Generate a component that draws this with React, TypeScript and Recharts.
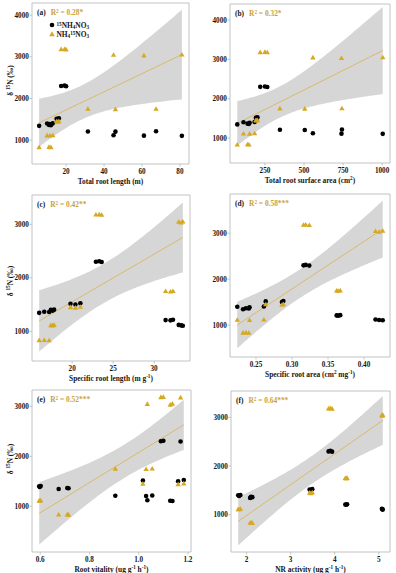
import React from "react";
import {
  ComposedChart,
  Scatter,
  Line,
  Area,
  XAxis,
  YAxis,
  ReferenceArea,
  Legend,
} from "recharts";

// δ15N (‰) per plant: 6 treatments x 3 replicates, same plant order in every array
const nh4Delta = [1400, 1385, 1405, 1345, 1365, 1360, 1515, 1500, 1525, 2300, 2310, 2295, 1210, 1205, 1215, 1120, 1110, 1105];
const no3Delta = [1112, 1108, 1118, 832, 836, 830, 1450, 1440, 1455, 3180, 3185, 3175, 1750, 1742, 1752, 3045, 3030, 3050];

// root traits of the same plants
const rootLength = [10, 11.5, 13, 5.8, 11, 12, 15, 15.6, 16.2, 17.4, 19.2, 20, 31.5, 46, 67.4, 45, 61, 81];
const rootSurfaceArea = [113, 152, 184, 73, 139, 148, 192, 198, 202, 220, 250, 265, 346, 505, 743, 557, 740, 1004];
const specificRootLength = [17.4, 17.6, 17.8, 15.98, 16.6, 17.2, 19.8, 20.4, 21.0, 22.9, 23.3, 23.6, 31.4, 32.0, 32.3, 33.0, 33.3, 33.5];
const specificRootArea = [0.224, 0.241, 0.261, 0.232, 0.236, 0.24, 0.2635, 0.286, 0.288, 0.316, 0.319, 0.324, 0.362, 0.364, 0.367, 0.416, 0.421, 0.426];
const rootVitality = [0.596, 0.598, 0.602, 0.675, 0.71, 0.715, 1.017, 1.16, 1.183, 1.09, 1.1, 1.17, 0.905, 1.03, 1.055, 1.035, 1.128, 1.137];
const nrActivity = [1.81, 1.83, 1.86, 2.08, 2.1, 2.13, 3.43, 3.46, 3.49, 3.86, 3.9, 3.94, 4.24, 4.26, 4.28, 5.07, 5.08, 5.09];

const panelTags = ["(a)", "(b)", "(c)", "(d)", "(e)", "(f)"];
const rSquared = ["0.28*", "0.32*", "0.42**", "0.58***", "0.52***", "0.64***"];
const yTicksTall = [1000, 2000, 3000, 4000];
const yTicksShort = [1000, 2000, 3000];

const FONT = '"Liberation Serif", "Times New Roman", serif';
const GOLD = "#D6A922";
const GOLD_LINE = "#DBB868";
const GOLD_TEXT = "#C9A13A";
const BAND = "#D6D6D6";
const FRAME = "#C2C2C2";
const INK = "#161616";

const NH4_NAME = "15NH4NO3";
const NO3_NAME = "NH415NO3";

type Part = [string, "" | "sup" | "sub"];

const Y_TITLE: Part[] = [["δ ", ""], ["15", "sup"], ["N (‰)", ""]];

interface PanelSpec {
  x: number[];
  tag: string;
  r2: string;
  xTitle: Part[];
  xTicks: number[];
  yTicks: number[];
  yDomain: [number, number];
  digits: number;
  // plot frame placement on the page
  fl: number;
  ft: number;
  fw: number;
  fh: number;
  yTitle?: boolean;
  yShift?: number;
  legend?: boolean;
}

const panels: PanelSpec[] = [
  {
    x: rootLength, tag: panelTags[0], r2: rSquared[0],
    xTitle: [["Total root length (m)", ""]],
    xTicks: [20, 40, 60, 80], yTicks: yTicksTall, yDomain: [430, 4290], digits: 0,
    fl: 32, ft: 3, fw: 157, fh: 161, yTitle: true, yShift: -3, legend: true,
  },
  {
    x: rootSurfaceArea, tag: panelTags[1], r2: rSquared[1],
    xTitle: [["Total root surface area (cm", ""], ["2", "sup"], [")", ""]],
    xTicks: [250, 500, 750, 1000], yTicks: yTicksTall, yDomain: [364, 4407], digits: 0,
    fl: 230, ft: 4, fw: 160, fh: 159,
  },
  {
    x: specificRootLength, tag: panelTags[2], r2: rSquared[2],
    xTitle: [["Specific root length (m g", ""], ["-1", "sup"], [")", ""]],
    xTicks: [20, 25, 30], yTicks: yTicksShort, yDomain: [445, 3548], digits: 0,
    fl: 32, ft: 195, fw: 158, fh: 166, yTitle: true, yShift: 3,
  },
  {
    x: specificRootArea, tag: panelTags[3], r2: rSquared[3],
    xTitle: [["Specific root area (cm", ""], ["2", "sup"], [" mg", ""], ["-1", "sup"], [")", ""]],
    xTicks: [0.25, 0.3, 0.35, 0.4], yTicks: yTicksShort, yDomain: [304, 3854], digits: 2,
    fl: 230, ft: 194, fw: 160, fh: 163,
  },
  {
    x: rootVitality, tag: panelTags[4], r2: rSquared[4],
    xTitle: [["Root vitality (ug g", ""], ["-1", "sup"], [" h", ""], ["-1", "sup"], [")", ""]],
    xTicks: [0.6, 0.8, 1.0, 1.2], yTicks: yTicksShort, yDomain: [86, 3326], digits: 1,
    fl: 32, ft: 390, fw: 159, fh: 162, yTitle: true, yShift: -12,
  },
  {
    x: nrActivity, tag: panelTags[5], r2: rSquared[5],
    xTitle: [["NR activity (ug g", ""], ["-1", "sup"], [" h", ""], ["-1", "sup"], [")", ""]],
    xTicks: [2, 3, 4, 5], yTicks: yTicksShort, yDomain: [234, 3540], digits: 0,
    fl: 231, ft: 391, fw: 159, fh: 161,
  },
];

const T95 = 2.12; // t(0.975, df = 16) for 18 plants

// ordinary least squares line with its 95% confidence band, like geom_smooth(method = "lm")
function lmBand(xs: number[], ys: number[], steps = 60) {
  const n = xs.length;
  const mx = xs.reduce((s, v) => s + v, 0) / n;
  const my = ys.reduce((s, v) => s + v, 0) / n;
  let sxx = 0;
  let sxy = 0;
  xs.forEach((x, i) => {
    sxx += (x - mx) ** 2;
    sxy += (x - mx) * (ys[i] - my);
  });
  const b = sxy / sxx;
  const a = my - b * mx;
  const sse = xs.reduce((s, x, i) => s + (ys[i] - a - b * x) ** 2, 0);
  const se = Math.sqrt(sse / (n - 2));
  const lo = Math.min(...xs);
  const hi = Math.max(...xs);
  return Array.from({ length: steps + 1 }, (_, k) => {
    const x = lo + ((hi - lo) * k) / steps;
    const fit = a + b * x;
    const w = T95 * se * Math.sqrt(1 / n + (x - mx) ** 2 / sxx);
    return { x, fit, band: [fit - w, fit + w] };
  });
}

// ggplot-style 5% expansion of the data range
function expanded(xs: number[]): [number, number] {
  const lo = Math.min(...xs);
  const hi = Math.max(...xs);
  const pad = (hi - lo) * 0.05;
  return [lo - pad, hi + pad];
}

function richTspans(parts: Part[], fs: number) {
  let shift = 0;
  return parts.map(([t, kind], i) => {
    const target = kind === "sup" ? -0.38 * fs : kind === "sub" ? 0.18 * fs : 0;
    const dy = target - shift;
    shift = target;
    return (
      <tspan key={i} dy={dy !== 0 ? dy : undefined} fontSize={kind ? fs * 0.7 : fs}>
        {t}
      </tspan>
    );
  });
}

const supStyle: React.CSSProperties = { fontSize: "0.7em", verticalAlign: "0.45em", lineHeight: 0 };
const subStyle: React.CSSProperties = { fontSize: "0.7em", verticalAlign: "-0.12em", lineHeight: 0 };

function XTitle(props: any) {
  const vb = props.viewBox ?? { x: 0, y: 0, width: 0, height: 0 };
  return (
    <text
      x={vb.x + vb.width / 2}
      y={vb.y + 20}
      textAnchor="middle"
      fontFamily={FONT}
      fontSize={7.4}
      fontWeight={700}
      fill={INK}
    >
      {richTspans(props.parts, 7.4)}
    </text>
  );
}

function YTitle(props: any) {
  const vb = props.viewBox ?? { x: 0, y: 0, width: 0, height: 0 };
  const fs = 7.4;
  const cx = vb.x + 10;
  const cy = vb.y + vb.height / 2 + (props.shift ?? 0);
  return (
    <text
      x={cx}
      y={cy + 0.35 * fs}
      transform={`rotate(-90 ${cx} ${cy})`}
      textAnchor="middle"
      fontFamily={FONT}
      fontSize={fs}
      fontWeight={700}
      fill={INK}
    >
      {richTspans(Y_TITLE, fs)}
    </text>
  );
}

const renderDot = (p: any) => <circle cx={p.cx} cy={p.cy} r={2.3} fill="#000" />;
const renderTriangle = (p: any) => (
  <polygon
    points={`${p.cx},${p.cy - 2.7} ${p.cx + 2.7},${p.cy + 1.9} ${p.cx - 2.7},${p.cy + 1.9}`}
    fill={GOLD}
  />
);

const legendText: Record<string, React.ReactNode> = {
  [NH4_NAME]: (
    <>
      <span style={supStyle}>15</span>NH<span style={subStyle}>4</span>NO<span style={subStyle}>3</span>
    </>
  ),
  [NO3_NAME]: (
    <>
      NH<span style={subStyle}>4</span>
      <span style={supStyle}>15</span>NO<span style={subStyle}>3</span>
    </>
  ),
};

function LegendBox(props: any) {
  const items = (props.payload ?? []).filter((e: any) => e.type !== "none" && legendText[e.value]);
  return (
    <div style={{ fontFamily: FONT, fontSize: 7.4, fontWeight: 700, color: INK }}>
      {items.map((e: any) => (
        <div key={e.value} style={{ display: "flex", alignItems: "center", height: 9, whiteSpace: "nowrap" }}>
          <svg width={6} height={6} style={{ marginRight: 1.5, flex: "none" }}>
            {e.value === NH4_NAME ? (
              <circle cx={3} cy={3} r={2.3} fill="#000" />
            ) : (
              <polygon points="3,0.3 5.8,5.3 0.2,5.3" fill={GOLD} />
            )}
          </svg>
          <span style={{ lineHeight: "9px" }}>{legendText[e.value]}</span>
        </div>
      ))}
    </div>
  );
}

const YW = 32;
const MT = 3;
const MR = 3;
const XH = 22;

const tickStyle = { fontSize: 7.2, fontWeight: 700, fill: INK, fontFamily: FONT };

function Panel({ p }: { p: PanelSpec }) {
  const xDomain = expanded(p.x);
  const fitData = lmBand(p.x, no3Delta);
  const nh4Points = p.x.map((x, i) => ({ x, y: nh4Delta[i] }));
  const no3Points = p.x.map((x, i) => ({ x, y: no3Delta[i] }));
  const w = YW + p.fw + MR;
  const h = MT + p.fh + XH;

  return (
    <div style={{ position: "absolute", left: p.fl - YW, top: p.ft - MT, width: w, height: h }}>
      <ComposedChart width={w} height={h} data={fitData} margin={{ top: MT, right: MR, bottom: 0, left: 0 }}>
        <XAxis
          type="number"
          dataKey="x"
          domain={xDomain}
          ticks={p.xTicks}
          interval={0}
          allowDataOverflow
          height={XH}
          axisLine={false}
          tickLine={{ stroke: FRAME }}
          tickSize={2.5}
          tickMargin={2.8}
          tick={tickStyle}
          tickFormatter={(v: number) => v.toFixed(p.digits)}
          label={<XTitle parts={p.xTitle} />}
        />
        <YAxis
          type="number"
          domain={p.yDomain}
          ticks={p.yTicks}
          interval={0}
          allowDataOverflow
          width={YW}
          axisLine={false}
          tickLine={{ stroke: FRAME }}
          tickSize={2.5}
          tickMargin={0.6}
          tick={tickStyle}
          label={p.yTitle ? <YTitle shift={p.yShift} /> : undefined}
        />
        <Area
          type="linear"
          dataKey="band"
          stroke="none"
          fill={BAND}
          fillOpacity={1}
          dot={false}
          activeDot={false}
          legendType="none"
          isAnimationActive={false}
        />
        <Line
          type="linear"
          dataKey="fit"
          stroke={GOLD_LINE}
          strokeWidth={1}
          dot={false}
          activeDot={false}
          legendType="none"
          isAnimationActive={false}
        />
        <Scatter name={NH4_NAME} data={nh4Points} dataKey="y" fill="#000" shape={renderDot} isAnimationActive={false} />
        <Scatter name={NO3_NAME} data={no3Points} dataKey="y" fill={GOLD} shape={renderTriangle} isAnimationActive={false} />
        <ReferenceArea
          x1={xDomain[0]}
          x2={xDomain[1]}
          y1={p.yDomain[0]}
          y2={p.yDomain[1]}
          fill="none"
          fillOpacity={0}
          stroke={FRAME}
          strokeWidth={1}
        />
        {p.legend && (
          <Legend
            layout="vertical"
            align="center"
            verticalAlign="middle"
            wrapperStyle={{ left: YW + 17, top: MT + 17.5, width: "auto", height: "auto" }}
            content={<LegendBox />}
          />
        )}
      </ComposedChart>
      <div
        style={{
          position: "absolute",
          left: YW + 5,
          top: MT + 5,
          fontFamily: FONT,
          fontSize: 7.4,
          fontWeight: 700,
          lineHeight: "10px",
          whiteSpace: "nowrap",
        }}
      >
        <span style={{ color: INK }}>{p.tag}</span>
        <span style={{ color: GOLD_TEXT, marginLeft: 5 }}>
          R<span style={supStyle}>2</span> = {p.r2}
        </span>
      </div>
    </div>
  );
}

export default function App() {
  return (
    <div
      style={{
        position: "absolute",
        left: 0,
        top: 0,
        width: 396,
        height: 573,
        overflow: "hidden",
        background: "#fff",
      }}
    >
      {panels.map((p) => (
        <Panel key={p.tag} p={p} />
      ))}
    </div>
  );
}
